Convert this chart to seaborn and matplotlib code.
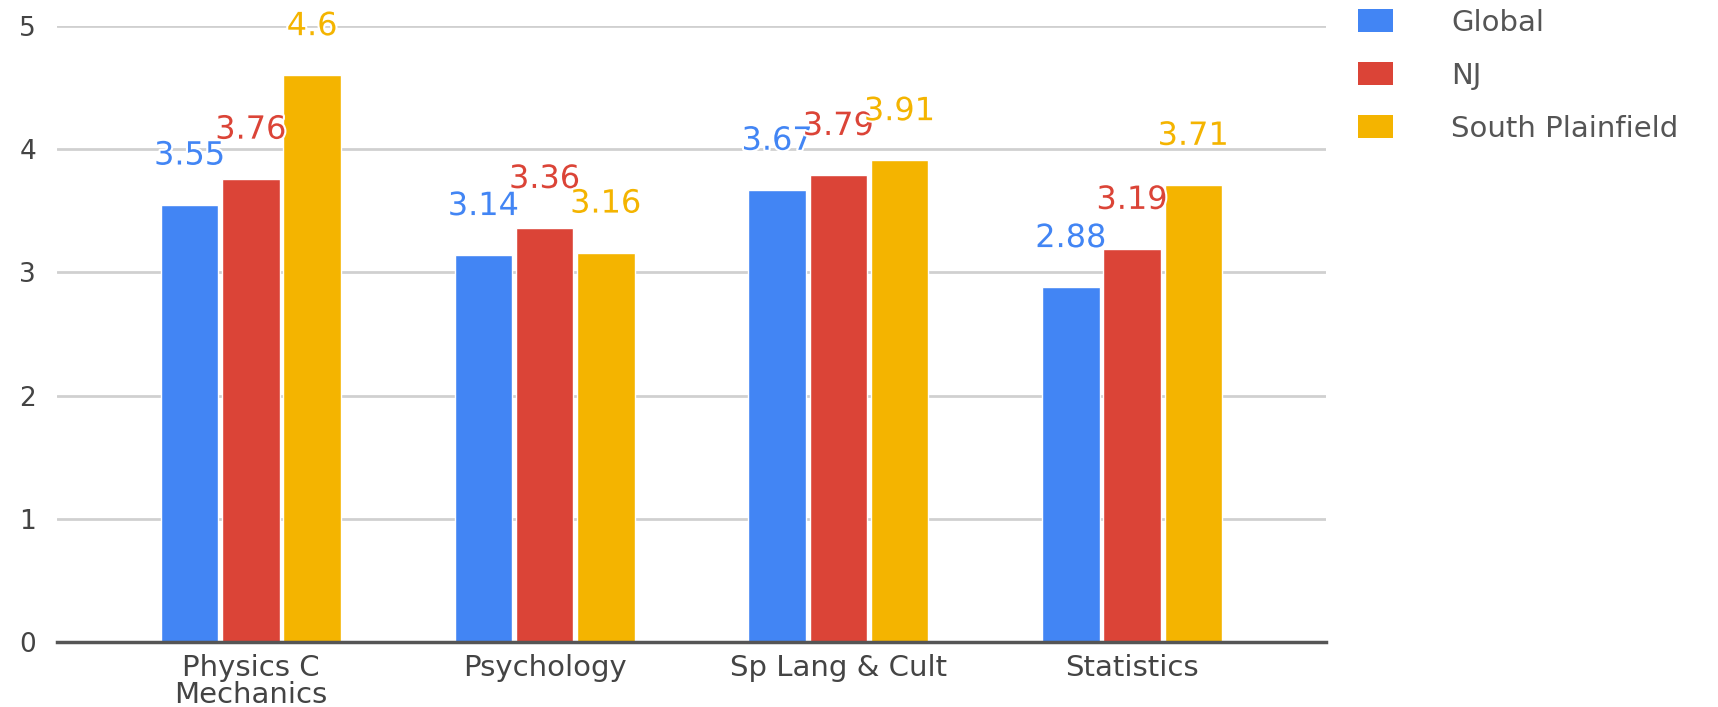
import matplotlib
matplotlib.use("Agg")
import matplotlib.pyplot as plt
import matplotlib.patheffects as pe
from matplotlib.patches import Patch
import seaborn as sns
import pandas as pd

categories = ["Physics C\nMechanics", "Psychology", "Sp Lang & Cult", "Statistics"]
series_names = ["Global", "NJ", "South Plainfield"]
global_vals = [3.55, 3.14, 3.67, 2.88]
nj_vals = [3.76, 3.36, 3.79, 3.19]
sp_vals = [4.6, 3.16, 3.91, 3.71]
y_ticks = [0, 1, 2, 3, 4, 5]

colors = ["#4285F4", "#DB4437", "#F4B400"]

rows = []
for name, vals in zip(series_names, [global_vals, nj_vals, sp_vals]):
    for c, v in zip(categories, vals):
        rows.append({"category": c, "series": name, "value": v})
df = pd.DataFrame(rows)

sns.set_theme(style="white")
plt.rcParams["font.family"] = ["DejaVu Sans"]

fig = plt.figure(figsize=(17.18, 7.07), dpi=100)
ax = fig.add_axes([57 / 1718, 1 - 642 / 707, (1326 - 57) / 1718, (642 - 26) / 707])

sns.barplot(data=df, x="category", y="value", hue="series", palette=colors,
            width=0.625, gap=0.06, ax=ax, legend=False, saturation=1)

ax.set_ylim(0, 5)
ax.set_xlim(-0.66, 3.66)
ax.set_yticks(y_ticks)
ax.set_xlabel("")
ax.set_ylabel("")
ax.yaxis.grid(True, color="#d0d0d0", linewidth=2)
ax.set_axisbelow(True)
for s in ["top", "right", "left"]:
    ax.spines[s].set_visible(False)
ax.spines["bottom"].set_color("#555555")
ax.spines["bottom"].set_linewidth(2.5)
ax.tick_params(axis="both", length=0, colors="#444444")
ax.tick_params(axis="y", labelsize=19, pad=15)
ax.tick_params(axis="x", labelsize=21, pad=9)
for lab in ax.get_xticklabels():
    lab.set_linespacing(0.95)

for container, col in zip(ax.containers, colors):
    for bar in container:
        h = bar.get_height()
        ax.annotate(f"{h:g}", xy=(bar.get_x() + bar.get_width() / 2, h),
                    xytext=(0, 35), textcoords="offset points",
                    ha="center", va="center", fontsize=23, color=col,
                    path_effects=[pe.withStroke(linewidth=3, foreground="white")],
                    annotation_clip=False)

handles = [Patch(facecolor=c, edgecolor="none") for c in colors]
leg = fig.legend(handles, series_names, loc="upper left",
                 bbox_to_anchor=(1355 / 1718, 1 - 6 / 707), borderaxespad=0,
                 borderpad=0.1,
                 frameon=False, fontsize=21, handlelength=1.2, handleheight=0.85,
                 handletextpad=2.0, labelspacing=0.85, labelcolor="#555555")

fig.savefig("out.png", dpi=100)
